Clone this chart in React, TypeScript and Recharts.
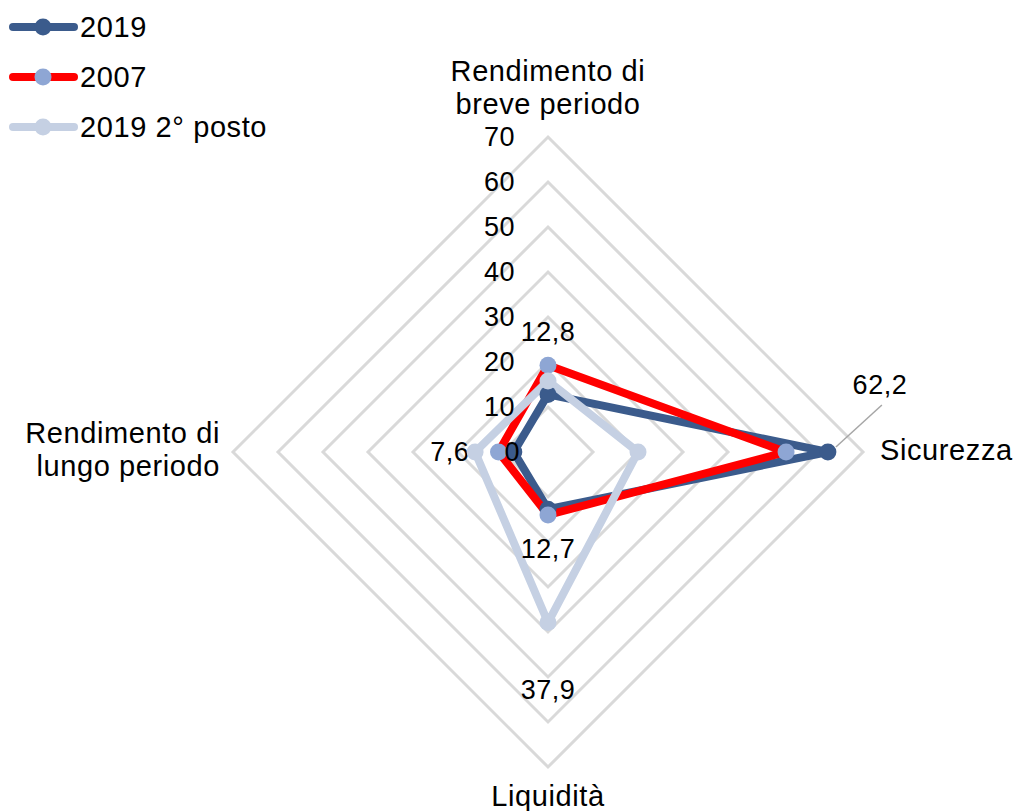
import { RadarChart, Radar, PolarGrid, PolarAngleAxis, PolarRadiusAxis, Legend } from 'recharts';

const categories = ['Rendimento di\nbreve periodo', 'Sicurezza', 'Liquidità', 'Rendimento di\nlungo periodo'];
const serie2019 = [12.8, 62.2, 12.7, 7.6];
const serie2007 = [19.3, 52.9, 14.0, 11.0];
const serie2019Secondo = [15.8, 20.0, 37.9, 16.2];
const labels2019 = ['12,8', '62,2', '12,7', '7,6'];
const labels2019Secondo = ['', '', '37,9', ''];
const radiusTicks = [0, 10, 20, 30, 40, 50, 60, 70];

const data = categories.map((name, i) => ({
    name,
    s2019: serie2019[i],
    s2007: serie2007[i],
    s2019b: serie2019Secondo[i],
}));

const FONT = '"Liberation Sans", Arial, sans-serif';
const DARK = '#3B5B8C';
const RED = '#FF0000';
const MID = '#8EA6D4';
const LIGHT = '#C5D0E3';

// offset of data labels from their point, by category index
const labelOffsets = [
    { dx: 0, dy: -62 },
    { dx: 52, dy: -67 },
    { dx: 0, dy: 40 },
    { dx: -64, dy: 0 },
];

const secondoOffsets = [
    { dx: 0, dy: 0 },
    { dx: 0, dy: 0 },
    { dx: 0, dy: 67 },
    { dx: 0, dy: 0 },
];

const makeDot = (fill: string, texts: string[], offsets: { dx: number; dy: number }[], zero?: boolean) => (props: any) => {
    const { cx, cy, index } = props;
    const txt = texts[index];
    const off = offsets[index];
    return (
        <g key={`dot-${fill}-${index}`}>
            <circle cx={cx} cy={cy} r={8.5} fill={fill} stroke="none" />
            {txt && index === 1 && (
                <line x1={cx + 8} y1={cy - 5} x2={cx + 54} y2={cy - 47} stroke="#A6A6A6" strokeWidth={1.5} />
            )}
            {txt && (
                <text x={cx + off.dx} y={cy + off.dy} textAnchor="middle" dominantBaseline="central"
                    fontFamily={FONT} fontSize={27} letterSpacing={0.5} fill="#000">
                    {txt}
                </text>
            )}
            {zero && index === 3 && (
                // radius tick "0" sits above the markers in the original
                <text x={520} y={452} textAnchor="end" dominantBaseline="central"
                    fontFamily={FONT} fontSize={27} letterSpacing={0.5} fill="#000">
                    {radiusTicks[0]}
                </text>
            )}
        </g>
    );
};

const AngleTick = (props: any) => {
    const { x, y, payload, cx, cy } = props;
    const lines: string[] = String(payload.value).split('\n');
    const centerX = cx ?? 548;
    const centerY = cy ?? 452;
    let anchor: 'start' | 'middle' | 'end' = 'middle';
    let tx = x;
    let ty = y;
    if (Math.abs(x - centerX) < 2 && y < centerY) {
        ty = y - 25 - (lines.length - 1) * 33;
    } else if (Math.abs(x - centerX) < 2) {
        ty = y + 21;
    } else if (x > centerX) {
        anchor = 'start';
        tx = x + 9;
        ty = y - 2;
    } else {
        anchor = 'end';
        tx = x - 5;
        ty = y - 19;
    }
    return (
        <text x={tx} y={ty} textAnchor={anchor} dominantBaseline="central" fontFamily={FONT} fontSize={29}
            letterSpacing={0.6} fill="#000">
            {lines.map((l, i) => (
                <tspan key={i} x={tx} dy={i === 0 ? 0 : 33}>{l}</tspan>
            ))}
        </text>
    );
};

const RadiusTick = (props: any) => {
    const { x, y, payload } = props;
    if (payload.value === 0) return <g />;
    return (
        <text x={x - 33} y={y} textAnchor="end" dominantBaseline="central" fontFamily={FONT} fontSize={27}
            letterSpacing={0.5} fill="#000">
            {payload.value}
        </text>
    );
};

const legendItems = [
    { name: '2019', line: DARK, marker: DARK },
    { name: '2007', line: RED, marker: MID },
    { name: '2019 2° posto', line: LIGHT, marker: LIGHT },
];

const CustomLegend = () => (
    <svg width={300} height={150}>
        {legendItems.map((it, i) => {
            const y = 27 + i * 50;
            return (
                <g key={it.name}>
                    <line x1={13} y1={y} x2={74} y2={y} stroke={it.line} strokeWidth={8} strokeLinecap="round" />
                    <circle cx={43} cy={y} r={8.5} fill={it.marker} />
                    <text x={80} y={y} dominantBaseline="central" fontFamily={FONT} fontSize={29}
                        letterSpacing={0.6} fill="#000">{it.name}</text>
                </g>
            );
        })}
    </svg>
);

const App = () => {
    return (
        <div style={{ position: 'absolute', left: 0, top: 0, background: '#fff' }}>
            <RadarChart width={1016} height={811} data={data} cx={548} cy={452} outerRadius={315}
                margin={{ top: 0, right: 0, bottom: 0, left: 0 }}>
                <PolarGrid gridType="polygon" radialLines={false} stroke="#D9D9D9" strokeWidth={3} />
                <PolarAngleAxis dataKey="name" tick={AngleTick} tickLine={false} axisLine={false} />
                <PolarRadiusAxis angle={90} domain={[0, 70]} ticks={radiusTicks} tickCount={8}
                    axisLine={false} tick={RadiusTick} />
                <Radar name="2019" dataKey="s2019" stroke={DARK} strokeWidth={8} fill="none" fillOpacity={0}
                    strokeLinejoin="round" dot={makeDot(DARK, labels2019, labelOffsets)} isAnimationActive={false} />
                <Radar name="2007" dataKey="s2007" stroke={RED} strokeWidth={8} fill="none" fillOpacity={0}
                    strokeLinejoin="round" dot={makeDot(MID, [], labelOffsets)} isAnimationActive={false} />
                <Radar name="2019 2° posto" dataKey="s2019b" stroke={LIGHT} strokeWidth={8} fill="none" fillOpacity={0}
                    strokeLinejoin="round" dot={makeDot(LIGHT, labels2019Secondo, secondoOffsets, true)} isAnimationActive={false} />
                <Legend layout="vertical" verticalAlign="top" align="left" content={CustomLegend}
                    wrapperStyle={{ left: 0, top: 0, width: 300 }} />
            </RadarChart>
        </div>
    );
};

export default App;
